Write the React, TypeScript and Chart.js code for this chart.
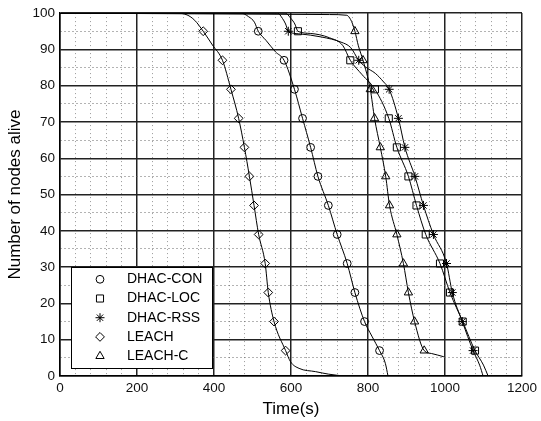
import React, { useEffect, useRef } from 'react';
import { Chart, registerables } from 'chart.js';
import { drawPoint } from 'chart.js/helpers';

Chart.register(...registerables);

// ---- data ----
const seriesNames = ['DHAC-CON', 'DHAC-LOC', 'DHAC-RSS', 'LEACH', 'LEACH-C'];
const markerLevels = [95, 87, 79, 71, 63, 55, 47, 39, 31, 23, 15, 7];

const conTime = [0, 470, 490, 505, 515, 535, 560, 582, 609, 630, 651, 670, 697, 720, 746, 766, 791, 810, 830, 845, 852];
const conAlive = [100, 100, 99, 97.5, 95, 92.5, 89.3, 87, 79, 71, 63, 55, 47, 39, 31, 23, 15, 11, 7, 3.5, 0];

const locTime = [0, 585, 600, 610, 618, 650, 700, 735, 754, 785, 818, 854, 875, 905, 926, 950, 987, 1013, 1046, 1078, 1100, 1112];
const locAlive = [100, 100, 98.5, 97, 95, 94.4, 93.2, 91, 87, 83, 79, 71, 63, 55, 47, 39, 31, 23, 15, 7, 3, 0];

const rssTime = [0, 565, 578, 586, 593, 620, 680, 730, 755, 776, 793, 819, 840, 855, 879, 896, 922, 944, 970, 1004, 1019, 1045, 1073, 1090, 1099];
const rssAlive = [100, 100, 98.5, 97, 95, 94.3, 93.4, 92, 90.5, 87, 85.2, 83.4, 81.1, 79, 71, 63, 55, 47, 39, 31, 23, 15, 7, 3, 0];

const leachTime = [0, 300, 330, 350, 372, 396, 422, 444, 464, 479, 492, 504, 516, 533, 541, 556, 586, 599, 621, 664, 698, 737];
const leachAlive = [100, 100, 99.5, 98, 95, 91.2, 87, 79, 71, 63, 55, 47, 39, 31, 23, 15, 7, 3.9, 2.1, 1.2, 0.5, 0];

const leachcTime = [0, 700, 745, 755, 760, 766, 775, 787, 806, 817, 832, 846, 856, 875, 892, 905, 921, 946, 965, 997];
const leachcAlive = [100, 99.6, 99.4, 98.2, 97, 95, 91, 87, 79, 71, 63, 55, 47, 39, 31, 23, 15, 7, 6.2, 5.3];

const xTickLabels = [0, 200, 400, 600, 800, 1000, 1200];
const yTickLabels = [0, 10, 20, 30, 40, 50, 60, 70, 80, 90, 100];

const seriesTimes = [conTime, locTime, rssTime, leachTime, leachcTime];
const seriesAlive = [conAlive, locAlive, rssAlive, leachAlive, leachcAlive];

// ---- styles ----
const markerStyles = ['circle', 'rect', 'star', 'rectRot', 'triangle'];
const markerSizes = [3.9, 5, 4.5, 4.4, 4.8];
const FONT = '"Liberation Sans", Arial, Helvetica, sans-serif';

const legendPlugin = {
  id: 'matlabLegend',
  afterDatasetsDraw(chart: any) {
    const { ctx, chartArea } = chart;
    const x0 = chartArea.left + 11;
    const x1 = chartArea.left + 152;
    const y1 = chartArea.bottom - 8;
    const y0 = y1 - 101;
    ctx.save();
    ctx.fillStyle = '#ffffff';
    ctx.fillRect(x0, y0, x1 - x0, y1 - y0);
    ctx.strokeStyle = '#000';
    ctx.lineWidth = 1;
    ctx.strokeRect(Math.round(x0) + 0.5, Math.round(y0) + 0.5, Math.round(x1 - x0), Math.round(y1 - y0));
    chart.data.datasets.forEach((ds: any, i: number) => {
      const y = y0 + 12.3 + i * 19.2;
      ctx.strokeStyle = '#000';
      ctx.fillStyle = 'rgba(0,0,0,0)';
      ctx.lineWidth = 1;
      drawPoint(ctx, { pointStyle: markerStyles[i], radius: markerSizes[i], borderWidth: 1, rotation: 0 } as any, chartArea.left + 40, y);
      ctx.fillStyle = '#000';
      ctx.font = '14px ' + FONT;
      ctx.textBaseline = 'middle';
      ctx.textAlign = 'left';
      ctx.fillText(ds.label, chartArea.left + 67, y);
    });
    ctx.restore();
  },
};

export default function App() {
  const canvasRef = useRef<HTMLCanvasElement | null>(null);

  useEffect(() => {
    if (!canvasRef.current) return;
    const datasets = seriesNames.map((name, i) => ({
      label: name,
      data: seriesTimes[i].map((t, j) => ({ x: t, y: seriesAlive[i][j] })),
      borderColor: '#000',
      borderWidth: 1,
      fill: false,
      cubicInterpolationMode: 'monotone' as const,
      pointStyle: markerStyles[i],
      pointRadius: (c: any) => (c.raw && markerLevels.includes(c.raw.y) ? markerSizes[i] : 0),
      pointBorderColor: '#000',
      pointBackgroundColor: 'rgba(0,0,0,0)',
      pointBorderWidth: 1,
    }));

    const isMajorX = (v: number) => xTickLabels.includes(v);
    const isMajorY = (v: number) => yTickLabels.includes(v);

    const chart = new Chart(canvasRef.current, {
      type: 'line',
      data: { datasets },
      plugins: [legendPlugin],
      options: {
        animation: false,
        responsive: false,
        events: [],
        layout: { padding: { top: 11, right: 17, left: 0, bottom: 0 } },
        plugins: { legend: { display: false }, tooltip: { enabled: false } },
        scales: {
          x: {
            type: 'linear',
            min: 0,
            max: 1200,
            afterFit: (s: any) => { s.height = 45; },
            ticks: {
              stepSize: 40,
              autoSkip: false,
              maxRotation: 0,
              padding: 4,
              color: '#111',
              font: { family: FONT, size: 13.5 },
              callback: (v: any) => (isMajorX(Number(v)) ? String(v) : ''),
            },
            grid: {
              drawTicks: false,
              color: (c: any) => (c.tick && isMajorX(c.tick.value) ? '#222' : '#999'),
              lineWidth: (c: any) => (c.tick && isMajorX(c.tick.value) ? 1.5 : 1),
            },
            border: {
              color: '#000',
              width: 1.5,
              dash: (c: any) => (c.tick && !isMajorX(c.tick.value) ? [1, 3] : []),
            },
            title: {
              display: true,
              text: 'Time(s)',
              color: '#000',
              font: { family: FONT, size: 17 },
              padding: { top: 0, bottom: 1 },
            },
          },
          y: {
            type: 'linear',
            min: 0,
            max: 100,
            afterFit: (s: any) => { s.width = 60; },
            ticks: {
              stepSize: 5,
              autoSkip: false,
              padding: 5,
              color: '#111',
              font: { family: FONT, size: 13.5 },
              callback: (v: any) => (isMajorY(Number(v)) ? String(v) : ''),
            },
            grid: {
              drawTicks: false,
              color: (c: any) => (c.tick && isMajorY(c.tick.value) ? '#222' : '#666'),
              lineWidth: (c: any) => (c.tick && isMajorY(c.tick.value) ? 1.5 : 1),
            },
            border: {
              color: '#000',
              width: 1.5,
              dash: (c: any) => (c.tick && !isMajorY(c.tick.value) ? [1, 3] : []),
            },
            title: {
              display: true,
              text: 'Number of nodes alive',
              color: '#000',
              font: { family: FONT, size: 17 },
              padding: { top: 5, bottom: 0 },
            },
          },
        },
      } as any,
    });
    return () => chart.destroy();
  }, []);

  return (
    <div style={{ position: 'fixed', left: 0, top: 0, width: 541, height: 421, background: '#fff' }}>
      <canvas ref={canvasRef} width={541} height={421} style={{ display: 'block', width: 541, height: 421 }} />
    </div>
  );
}
